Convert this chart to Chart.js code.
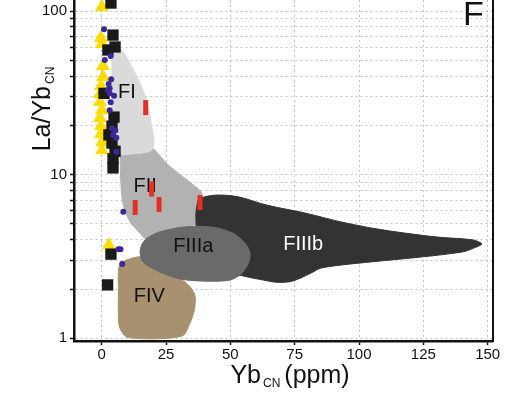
<!DOCTYPE html>
<html>
<head>
<meta charset="utf-8">
<script src="https://cdn.jsdelivr.net/npm/chart.js@4.4.0/dist/chart.umd.min.js"></script>
<style>
  html, body { margin: 0; padding: 0; background: #fff; }
  #wrap { width: 526px; height: 405px; }
</style>
</head>
<body>
<div id="wrap"><canvas id="chart" width="526" height="405"></canvas></div>
<script>
// field outlines, [Yb_CN, La/Yb_CN]
const regionFI = [[4.0,57.8],[5.2,60.3],[7.8,57.8],[11.7,45.7],[15.5,34.5],[18.1,26.0],[19.4,19.6],
  [20.3,16.3],[19.4,14.1],[16.2,13.6],[11.7,13.4],[7.8,13.2],[4.2,13.6],[4.0,30],[4.0,57.8]];
const regionFII = [[7.1,13.75],[12.9,14.3],[19.4,14.6],[20.7,14.1],[25.3,11.7],[29.8,10.2],[35.6,8.65],
  [38.9,7.69],[38.9,5.16],[35.0,4.88],[21.9,3.88],[17.5,3.99],[14.9,4.38],[11.0,5.16],[8.4,6.52],
  [7.5,8.65],[7.1,13.75]];
const regionFIIIa = [[14.9,3.38],[15.5,3.01],[17.5,2.80],[25.3,2.44],[33.0,2.27],[48.6,2.25],[53.7,2.44],
  [57.0,2.87],[57.6,3.31],[55.7,3.81],[51.1,4.38],[43.4,4.77],[33.0,4.81],[22.7,4.48],[17.5,4.08],
  [15.5,3.72],[14.9,3.38]];
const regionFIIIb = [[37.4,7.0],[40.1,7.33],[45.2,7.51],[53.0,7.33],[64.1,6.52],[79.7,5.80],[92.6,5.16],
  [105.5,4.70],[118.5,4.38],[131.5,4.14],[144.4,3.99],[147.7,3.77],[144.4,3.55],[140.5,3.38],
  [125.0,3.15],[105.5,2.94],[92.6,2.80],[84.9,2.68],[82.3,2.55],[77.1,2.33],[73.2,2.22],[68.0,2.20],
  [62.8,2.27],[56.3,2.38],[49.9,2.54],[38.2,3.46],[36.6,5.67],[37.4,7.0]];
const regionFIV = [[7.1,2.87],[9.7,3.01],[14.9,3.15],[22.7,2.93],[30.4,2.33],[34.3,2.07],[36.3,1.80],
  [36.0,1.49],[34.3,1.24],[31.1,1.03],[10.3,1.01],[7.1,1.15],[6.5,1.36],[6.5,1.97],[6.5,2.61],[7.1,2.87]];

// samples
const triangles = [[0.1,105.8],[-0.3,68.4],[0.1,62.9],[0.5,46.1],[0.5,39.5],[-0.3,34.8],[-0.7,31.1],
  [-0.7,27.8],[0.1,24.8],[-0.7,22.2],[-0.3,19.8],[-0.3,17.7],[0.1,15.8],[0.1,14.1],[2.8,3.72]];
const squares = [[3.6,111.9],[4.4,71.3],[5.2,60.3],[2.4,57.8],[0.9,31.4],[4.8,22.5],[4.0,19.8],
  [2.8,17.5],[4.0,15.6],[5.2,13.9],[4.4,12.5],[4.4,11.0],[3.6,3.27],[2.3,2.12]];
const dots = [[0.9,77.3],[3.5,53.1],[1.2,50.2],[3.7,38.3],[2.7,35.8],[3.1,33.7],[2.4,32.9],[3.1,31.4],
  [4.8,30.4],[3.5,27.7],[3.1,24.8],[4.0,19.2],[5.3,18.6],[4.4,17.5],[5.7,16.8],[5.7,13.8],
  [8.4,5.94],[6.5,3.50],[7.3,3.50],[8.0,2.85]];
const redBars = [[17.1,25.7],[19.4,8.17],[13.0,6.30],[22.3,6.57],[38.2,6.76]];

const xTicks = [0, 25, 50, 75, 100, 125, 150];
const yTicks = [1, 2, 3, 4, 5, 6, 7, 8, 9, 10, 20, 30, 40, 50, 60, 70, 80, 90, 100];

const toXY = arr => arr.map(p => ({x: p[0], y: p[1]}));
const FONT = '"Liberation Sans", Arial, sans-serif';

function region(name, pts, color, order) {
  return {
    type: 'line', label: name, data: toXY(pts), order: order,
    showLine: true, fill: 'shape', tension: 0.3,
    backgroundColor: color, borderColor: color, borderWidth: 1,
    pointRadius: 0, pointHoverRadius: 0
  };
}

// label anchors for the fields
const labelAt = {FI: [9.8, 31.8], FII: [16.9, 8.52], FIIIa: [35.6, 3.62], FIIIb: [78.3, 3.72], FIV: [18.5, 1.80]};

function titleWithSub(ctx, parts, cx, baseline) {
  // parts: [text, size, dy, gapAfter]
  let total = 0;
  parts.forEach(p => { ctx.font = p[1] + 'px ' + FONT; total += ctx.measureText(p[0]).width + p[3]; });
  let x = cx - total / 2;
  ctx.textAlign = 'left';
  ctx.textBaseline = 'alphabetic';
  parts.forEach(p => {
    ctx.font = p[1] + 'px ' + FONT;
    ctx.fillText(p[0], x, baseline + p[2]);
    x += ctx.measureText(p[0]).width + p[3];
  });
}

const textPlugin = {
  id: 'texts',
  afterDatasetDraw(chart, args) {
    if (args.index !== 4) return;
    const ctx = chart.ctx, xs = chart.scales.x, ys = chart.scales.y;
    ctx.save();
    ctx.font = '20px ' + FONT;
    ctx.textAlign = 'center';
    ctx.textBaseline = 'middle';
    Object.keys(labelAt).forEach(n => {
      ctx.fillStyle = n === 'FIIIb' ? '#ffffff' : '#111111';
      ctx.fillText(n, xs.getPixelForValue(labelAt[n][0]), ys.getPixelForValue(labelAt[n][1]));
    });
    ctx.restore();
  },
  afterDraw(chart) {
    const ctx = chart.ctx, a = chart.chartArea;
    ctx.save();
    // right frame
    ctx.strokeStyle = '#111';
    ctx.lineWidth = 2;
    ctx.beginPath();
    ctx.moveTo(a.right + 1, 0);
    ctx.lineTo(a.right + 1, a.bottom + 1);
    ctx.stroke();
    ctx.fillStyle = '#111';
    // x title
    titleWithSub(ctx, [['Yb', 25, 0, 2], ['CN', 12, 4, 4], ['(ppm)', 25, 0, 0]], 290, 383);
    // y title
    ctx.translate(50, 109);
    ctx.rotate(-Math.PI / 2);
    titleWithSub(ctx, [['La/Yb', 25, 0, 2], ['CN', 12, 4, 0]], 0, 0);
    ctx.restore();
    // panel letter
    ctx.save();
    ctx.fillStyle = '#111';
    ctx.font = '34px ' + FONT;
    ctx.textAlign = 'left';
    ctx.textBaseline = 'alphabetic';
    ctx.fillText('F', 463, 25);
    ctx.restore();
  }
};

const ctx = document.getElementById('chart').getContext('2d');
new Chart(ctx, {
  type: 'scatter',
  data: {
    datasets: [
      region('FII', regionFII, '#b2b2b2', 10),
      region('FI', regionFI, '#dadada', 9),
      region('FIIIb', regionFIIIb, '#333333', 8),
      region('FIV', regionFIV, '#a8916f', 7),
      region('FIIIa', regionFIIIa, '#6a6a6a', 6),
      {label: 'triangles', data: toXY(triangles), order: 4, pointStyle: 'triangle', pointRadius: 8,
        backgroundColor: '#ffdd00', borderColor: '#ffdd00', borderWidth: 0},
      {label: 'squares', data: toXY(squares), order: 3, pointStyle: 'rect', pointRadius: 8,
        backgroundColor: '#1a1a1a', borderColor: '#1a1a1a', borderWidth: 0},
      {label: 'dots', data: toXY(dots), order: 2, pointStyle: 'circle', pointRadius: 3,
        backgroundColor: '#3a2996', borderColor: '#3a2996', borderWidth: 0},
      {label: 'red', data: toXY(redBars), order: 1, pointStyle: 'line', rotation: 90, pointRadius: 7.5,
        backgroundColor: '#e42f25', borderColor: '#e42f25', borderWidth: 5}
    ]
  },
  options: {
    responsive: false,
    animation: false,
    devicePixelRatio: 1,
    layout: {autoPadding: false, padding: {left: 0, right: 34, top: 0, bottom: 0}},
    plugins: {legend: {display: false}, tooltip: {enabled: false}},
    scales: {
      x: {
        type: 'linear', min: -10.76, max: 151.67,
        afterBuildTicks: s => { s.ticks = xTicks.map(v => ({value: v})); },
        afterFit: s => { s.height = 64; s.paddingLeft = 0; s.paddingRight = 0; },
        ticks: {autoSkip: false, maxRotation: 0, padding: 1, color: '#111', font: {family: FONT, size: 15}},
        grid: {color: '#c4c4c4', tickColor: '#111', tickLength: 4, tickWidth: 1.5},
        border: {color: '#111', width: 2.5, dash: [2, 3]}
      },
      y: {
        type: 'logarithmic', min: 0.963, max: 116.8,
        afterBuildTicks: s => { s.ticks = yTicks.map(v => ({value: v})); },
        afterFit: s => { s.width = 74; s.paddingTop = 0; s.paddingBottom = 0; },
        ticks: {autoSkip: false, padding: 3, color: '#111', font: {family: FONT, size: 15},
          callback: v => ([1, 10, 100].includes(v) ? String(v) : '')},
        grid: {color: '#c4c4c4', tickColor: '#111', tickLength: 4, tickWidth: 1.5},
        border: {color: '#111', width: 2.5, dash: [2, 3]}
      }
    }
  },
  plugins: [textPlugin]
});
</script>
</body>
</html>
